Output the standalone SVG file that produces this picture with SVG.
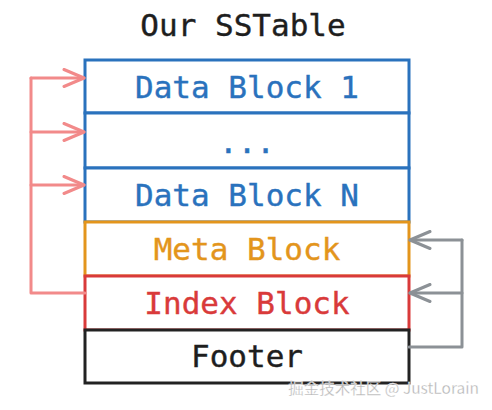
<svg xmlns="http://www.w3.org/2000/svg" width="492" height="410" viewBox="0 0 492 410">
<defs>
<style>
.t{font-family:"DejaVu Sans Mono","Liberation Mono",monospace;font-size:31px;text-anchor:middle;stroke-width:0.4}
.box{fill:#fff;stroke-width:3}
.red{fill:none;stroke:#f28a8a;stroke-width:3;stroke-linejoin:round;stroke-linecap:round}
.gray{fill:none;stroke:#8c9196;stroke-width:3;stroke-linejoin:round;stroke-linecap:round}
</style>
<marker id="ar" viewBox="0 0 24 20" refX="22" refY="10" markerWidth="24" markerHeight="20" markerUnits="userSpaceOnUse" orient="auto">
<path d="M2,1.5 L22,10 L2,18.5" fill="none" stroke="#f28a8a" stroke-width="3" stroke-linecap="round" stroke-linejoin="round"/>
</marker>
<marker id="ag" viewBox="0 0 24 20" refX="22" refY="10" markerWidth="24" markerHeight="20" markerUnits="userSpaceOnUse" orient="auto">
<path d="M2,1.5 L22,10 L2,18.5" fill="none" stroke="#8c9196" stroke-width="3" stroke-linecap="round" stroke-linejoin="round"/>
</marker>
</defs>
<rect width="492" height="410" fill="#fff"/>
<text class="t" x="243" y="36" fill="#1e1e1e" stroke="#1e1e1e">Our SSTable</text>
<g id="data1"><rect class="box" x="85" y="60" width="324" height="53" stroke="#2a72bd"/><text class="t" x="247" y="98" fill="#2a72bd" stroke="#2a72bd">Data Block 1</text></g>
<g id="dots"><rect class="box" x="85" y="113" width="324" height="55" stroke="#2a72bd"/><text class="t" x="247" y="153" fill="#2a72bd" stroke="#2a72bd">...</text></g>
<g id="dataN"><rect class="box" x="85" y="168" width="324" height="54" stroke="#2a72bd"/><text class="t" x="247" y="206" fill="#2a72bd" stroke="#2a72bd">Data Block N</text></g>
<g id="meta"><rect class="box" x="85" y="222" width="324" height="54" stroke="#e3951c"/><text class="t" x="247" y="260" fill="#e3951c" stroke="#e3951c">Meta Block</text></g>
<g id="index"><rect class="box" x="85" y="276" width="324" height="54" stroke="#d93a3a"/><text class="t" x="247" y="314" fill="#d93a3a" stroke="#d93a3a">Index Block</text></g>
<g id="footer"><rect class="box" x="85" y="330" width="324" height="53" stroke="#222"/><text class="t" x="247" y="367" fill="#1e1e1e" stroke="#1e1e1e">Footer</text></g>
<g id="connectors">
<path class="red" d="M85,293 H31 V78"/>
<path class="red" d="M31,78 H84" marker-end="url(#ar)"/>
<path class="red" d="M31,132 H84" marker-end="url(#ar)"/>
<path class="red" d="M31,185 H84" marker-end="url(#ar)"/>
<path class="gray" d="M409,347 H462 V240"/>
<path class="gray" d="M462,240 H410" marker-end="url(#ag)"/>
<path class="gray" d="M462,293 H410" marker-end="url(#ag)"/>
</g>
<text x="479" y="394" text-anchor="end" font-family="'Noto Sans CJK SC','Noto Sans',sans-serif" font-size="15.5" fill="#b4b4b4" stroke="#fff" stroke-width="0.3">掘金技术社区 @ JustLorain</text>
</svg>
